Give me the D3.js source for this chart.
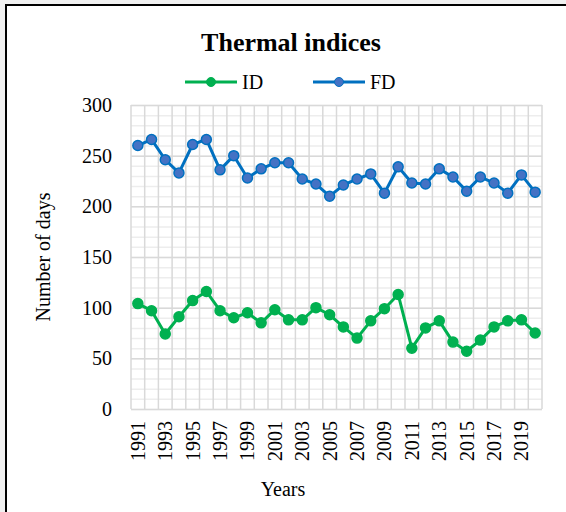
<!DOCTYPE html>
<html>

<head>
    <meta charset="utf-8">
    <script src="https://d3js.org/d3.v7.min.js"></script>
    <style>
        body { margin: 0; background: #f0f0f0; }
        text { font-family: "Liberation Serif", "Times New Roman", serif; fill: #000; }
    </style>
</head>

<body>
    <svg id="chart" width="566" height="512"></svg>
    <script>
        const years = d3.range(1991, 2021);
        const idDays = [104, 97, 74, 91, 107, 116, 97, 90, 95, 85, 98, 88, 88, 100, 93,
            81, 70, 87, 99, 113, 60, 80, 87, 66, 57, 68, 81, 87, 88, 75];
        const fdDays = [260, 266, 246, 233, 261, 266, 236, 250, 228, 237, 243, 243, 227, 222, 210,
            221, 227, 232, 213, 239, 223, 222, 237, 229, 215, 229, 223, 213, 231, 214];
        const yTicks = [0, 50, 100, 150, 200, 250, 300];
        const xTickYears = years.filter(y => (y - 1991) % 2 == 0);

        const svg = d3.select("#chart");

        // white card with the black frame
        svg.append("rect")
            .attr("x", 6).attr("y", 5)
            .attr("width", 600).attr("height", 560)
            .attr("fill", "white")
            .attr("stroke", "black")
            .attr("stroke-width", 2);

        const plot = { left: 131, right: 542, top: 105, bottom: 409 };

        const x = d3.scaleBand().domain(years).range([plot.left, plot.right]);
        const y = d3.scaleLinear().domain([0, 300]).range([plot.bottom, plot.top]);
        const cx = d => x(d) + x.bandwidth() / 2;

        // minor horizontal gridlines
        svg.append("g")
            .attr("transform", "translate(" + plot.left + ",0)")
            .call(d3.axisLeft(y).tickValues(d3.range(0, 301, 10)).tickSize(-(plot.right - plot.left)).tickFormat(""))
            .call(g => g.select(".domain").remove())
            .selectAll("line").attr("stroke", "#ededed").attr("stroke-width", 1.5);

        // major horizontal gridlines
        svg.append("g")
            .attr("transform", "translate(" + plot.left + ",0)")
            .call(d3.axisLeft(y).tickValues(yTicks).tickSize(-(plot.right - plot.left)).tickFormat(""))
            .call(g => g.select(".domain").remove())
            .selectAll("line").attr("stroke", "#d9d9d9").attr("stroke-width", 1.5);

        // vertical gridlines at category boundaries
        const edges = years.map(d => x(d)).concat([plot.right]);
        svg.append("g").selectAll("line")
            .data(edges)
            .join("line")
            .attr("x1", d => d).attr("x2", d => d)
            .attr("y1", plot.top).attr("y2", plot.bottom)
            .attr("stroke", "#d9d9d9")
            .attr("stroke-width", 1.5);

        // y tick labels
        svg.append("g").selectAll("text")
            .data(yTicks)
            .join("text")
            .attr("x", 112)
            .attr("y", d => y(d))
            .attr("dy", "0.35em")
            .attr("text-anchor", "end")
            .attr("font-size", 20)
            .text(d => d);

        // x tick labels, rotated
        svg.append("g").selectAll("text")
            .data(xTickYears)
            .join("text")
            .attr("transform", d => "translate(" + (cx(d) + 7) + "," + 421 + ") rotate(-90)")
            .attr("text-anchor", "end")
            .attr("font-size", 20)
            .text(d => d);

        const series = [
            { name: "ID", values: idDays, line: "#00b050", fill: "#00b050" },
            { name: "FD", values: fdDays, line: "#0070c0", fill: "#4472c4" }
        ];

        series.forEach(s => {
            const line = d3.line().x((d, i) => cx(years[i])).y(d => y(d));
            svg.append("path")
                .datum(s.values)
                .attr("d", line)
                .attr("fill", "none")
                .attr("stroke", s.line)
                .attr("stroke-width", 3)
                .attr("stroke-linejoin", "round");
            svg.append("g").selectAll("circle")
                .data(s.values)
                .join("circle")
                .attr("cx", (d, i) => cx(years[i]))
                .attr("cy", d => y(d))
                .attr("r", 5)
                .attr("fill", s.fill)
                .attr("stroke", s.line)
                .attr("stroke-width", 1.5);
        });

        // title
        svg.append("text")
            .attr("x", 291).attr("y", 51)
            .attr("text-anchor", "middle")
            .attr("font-size", 26)
            .attr("font-weight", "bold")
            .text("Thermal indices");

        // legend
        const legendX = [185, 313];
        series.forEach((s, i) => {
            const g = svg.append("g").attr("transform", "translate(" + legendX[i] + ",82)");
            g.append("line").attr("x1", 0).attr("x2", 52).attr("y1", 0).attr("y2", 0)
                .attr("stroke", s.line).attr("stroke-width", 3);
            g.append("circle").attr("cx", 26).attr("cy", 0).attr("r", 4.5)
                .attr("fill", s.fill).attr("stroke", s.line).attr("stroke-width", 1);
            g.append("text").attr("x", 57).attr("y", 0).attr("dy", "0.35em")
                .attr("font-size", 20).text(s.name);
        });

        // axis titles
        svg.append("text")
            .attr("transform", "translate(50,257) rotate(-90)")
            .attr("text-anchor", "middle")
            .attr("font-size", 20)
            .text("Number of days");

        svg.append("text")
            .attr("x", 283).attr("y", 496)
            .attr("text-anchor", "middle")
            .attr("font-size", 20)
            .text("Years");
    </script>
</body>

</html>
